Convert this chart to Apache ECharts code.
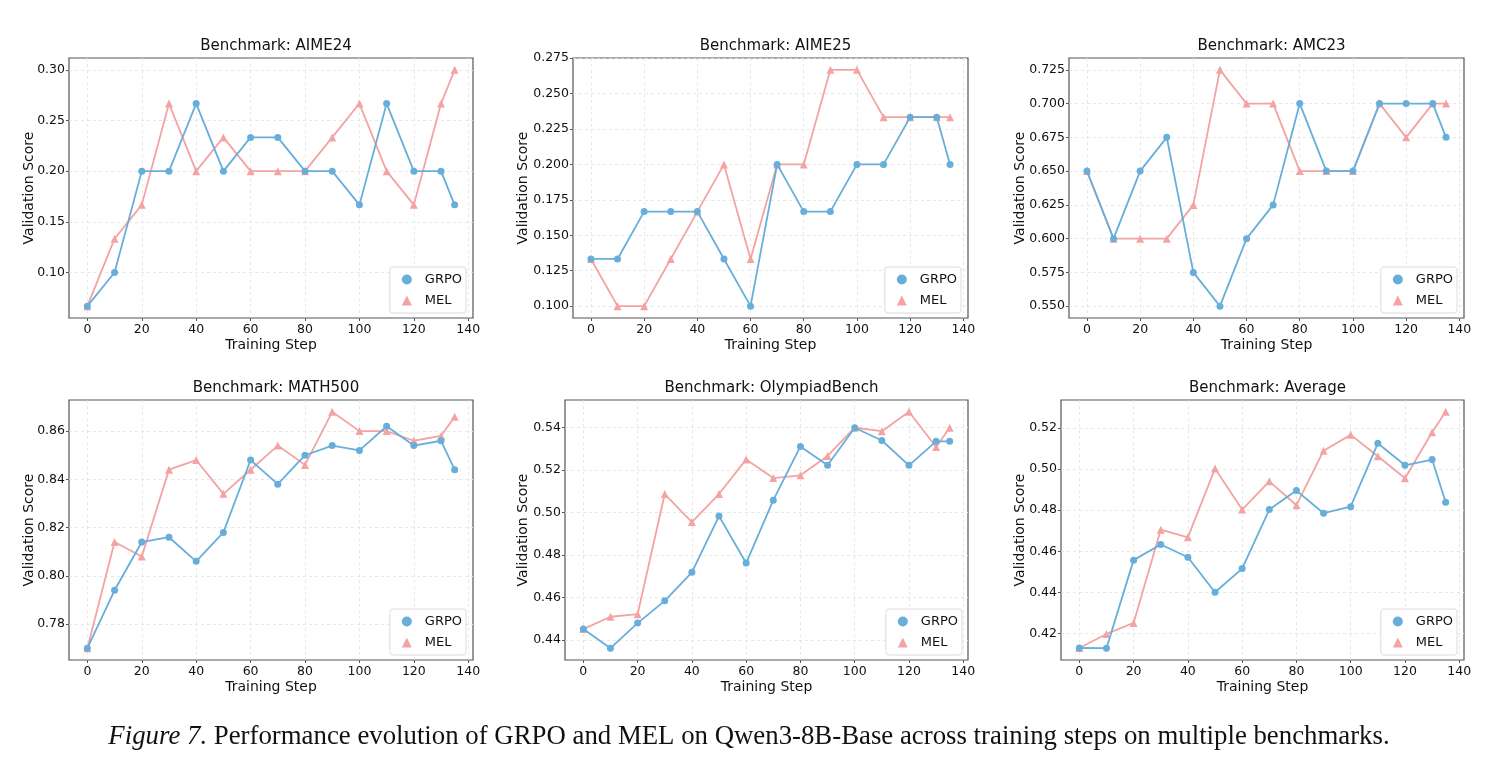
<!DOCTYPE html>
<html style="height: 100%">
<head>
  <meta charset="utf-8">
  <title>GRPO vs MEL</title>
</head>
<body style="height: 100%; margin: 0; background: #fff">
<div id="container" style="width: 1489px; height: 764px"></div>
<script src="https://cdn.jsdelivr.net/npm/echarts@6/dist/echarts.min.js"></script>
<script type="text/javascript">
  // training steps shared by every panel
  var steps = [0, 10, 20, 30, 40, 50, 60, 70, 80, 90, 100, 110, 120, 130, 135];
  var stepTicks = [0, 20, 40, 60, 80, 100, 120, 140];

  var benchmarks = ['AIME24', 'AIME25', 'AMC23', 'MATH500', 'OlympiadBench', 'Average'];

  var grpoAIME24 = [0.0667, 0.1, 0.2, 0.2, 0.2667, 0.2, 0.2333, 0.2333, 0.2, 0.2, 0.1667, 0.2667, 0.2, 0.2, 0.1667];
  var melAIME24  = [0.0667, 0.1333, 0.1667, 0.2667, 0.2, 0.2333, 0.2, 0.2, 0.2, 0.2333, 0.2667, 0.2, 0.1667, 0.2667, 0.3];

  var grpoAIME25 = [0.1333, 0.1333, 0.1667, 0.1667, 0.1667, 0.1333, 0.1, 0.2, 0.1667, 0.1667, 0.2, 0.2, 0.2333, 0.2333, 0.2];
  var melAIME25  = [0.1333, 0.1, 0.1, 0.1333, 0.1667, 0.2, 0.1333, 0.2, 0.2, 0.2667, 0.2667, 0.2333, 0.2333, 0.2333, 0.2333];

  var grpoAMC23 = [0.65, 0.6, 0.65, 0.675, 0.575, 0.55, 0.6, 0.625, 0.7, 0.65, 0.65, 0.7, 0.7, 0.7, 0.675];
  var melAMC23  = [0.65, 0.6, 0.6, 0.6, 0.625, 0.725, 0.7, 0.7, 0.65, 0.65, 0.65, 0.7, 0.675, 0.7, 0.7];

  var grpoMATH500 = [0.770, 0.794, 0.814, 0.816, 0.806, 0.818, 0.848, 0.838, 0.850, 0.854, 0.852, 0.862, 0.854, 0.856, 0.844];
  var melMATH500  = [0.770, 0.814, 0.808, 0.844, 0.848, 0.834, 0.844, 0.854, 0.846, 0.868, 0.860, 0.860, 0.856, 0.858, 0.866];

  var grpoOlympiad = [0.4452, 0.4362, 0.4480, 0.4585, 0.4719, 0.4984, 0.4763, 0.5059, 0.5312, 0.5223, 0.5400, 0.5340, 0.5223, 0.5336, 0.5336];
  var melOlympiad  = [0.4452, 0.4510, 0.4522, 0.5088, 0.4956, 0.5088, 0.5251, 0.5163, 0.5176, 0.5267, 0.5400, 0.5384, 0.5475, 0.5309, 0.5400];

  var grpoAverage = [0.4130, 0.4129, 0.4557, 0.4633, 0.4571, 0.4401, 0.4516, 0.4803, 0.4895, 0.4785, 0.4817, 0.5125, 0.5018, 0.5046, 0.4838];
  var melAverage  = [0.4130, 0.4198, 0.4252, 0.4705, 0.4668, 0.5002, 0.4803, 0.4940, 0.4824, 0.5089, 0.5166, 0.5062, 0.4955, 0.5179, 0.5278];

  // y tick labels per panel
  var yTicksAIME24 = [0.10, 0.15, 0.20, 0.25, 0.30];
  var yTicksAIME25 = [0.100, 0.125, 0.150, 0.175, 0.200, 0.225, 0.250, 0.275];
  var yTicksAMC23 = [0.550, 0.575, 0.600, 0.625, 0.650, 0.675, 0.700, 0.725];
  var yTicksMATH500 = [0.78, 0.80, 0.82, 0.84, 0.86];
  var yTicksOlympiad = [0.44, 0.46, 0.48, 0.50, 0.52, 0.54];
  var yTicksAverage = [0.42, 0.44, 0.46, 0.48, 0.50, 0.52];

  var grpoSets = [grpoAIME24, grpoAIME25, grpoAMC23, grpoMATH500, grpoOlympiad, grpoAverage];
  var melSets = [melAIME24, melAIME25, melAMC23, melMATH500, melOlympiad, melAverage];
  var yTickSets = [yTicksAIME24, yTicksAIME25, yTicksAMC23, yTicksMATH500, yTicksOlympiad, yTicksAverage];
  var yDecimals = [2, 3, 3, 2, 2, 2];

  // panel boxes in pixels: left, top, width, height, y-name gap, legend right
  var boxes = [
    [69, 58, 404, 260, 33, 1023],
    [573, 58, 395, 260, 43, 528],
    [1069, 58, 395, 260, 42, 32],
    [69, 400, 404, 260, 33, 1023],
    [565, 400, 403, 260, 35, 527],
    [1061, 400, 403, 260, 34, 32]
  ];

  var blue = '#67aedb';
  var pink = '#f4a3a3';
  var font = 'DejaVu Sans';

  var dom = document.getElementById('container');
  var myChart = echarts.init(dom, null, { renderer: 'canvas' });

  var grids = [], xAxes = [], yAxes = [], titles = [], legends = [], series = [];

  function pad(lo, hi) {
    var m = (hi - lo) * 0.05;
    return [lo - m, hi + m];
  }

  for (var i = 0; i < 6; i++) {
    var b = boxes[i];
    grids.push({
      left: b[0], top: b[1], width: b[2], height: b[3],
      show: true, borderColor: '#555', borderWidth: 1.2, backgroundColor: '#fff'
    });
    var xr = pad(steps[0], steps[steps.length - 1]);
    xAxes.push({
      type: 'value', gridIndex: i, min: xr[0], max: xr[1],
      name: 'Training Step', nameLocation: 'middle', nameGap: 20, nameMoveOverlap: false,
      nameTextStyle: { fontFamily: font, fontSize: 14, color: '#111' },
      axisLine: { show: false, onZero: false },
      axisTick: { show: true, length: 3, lineStyle: { color: '#555' }, customValues: stepTicks },
      axisLabel: { customValues: stepTicks, fontFamily: font, fontSize: 12.5, color: '#111', margin: 5 },
      splitLine: { show: true, lineStyle: { color: '#e2e2e2', type: [3, 3], width: 0.8 } }
    });
    var all = grpoSets[i].concat(melSets[i]);
    var yr = pad(Math.min.apply(null, all), Math.max.apply(null, all));
    var dec = yDecimals[i];
    yAxes.push({
      type: 'value', gridIndex: i, min: yr[0], max: yr[1],
      name: 'Validation Score', nameLocation: 'middle', nameGap: b[4], nameMoveOverlap: false,
      nameTextStyle: { fontFamily: font, fontSize: 14, color: '#111' },
      axisLine: { show: false, onZero: false },
      axisTick: { show: true, length: 3, lineStyle: { color: '#555' }, customValues: yTickSets[i] },
      axisLabel: {
        customValues: yTickSets[i], fontFamily: font, fontSize: 12.5, color: '#111', margin: 4,
        formatter: (function (d) { return function (v) { return v.toFixed(d); }; })(dec)
      },
      splitLine: { show: true, lineStyle: { color: '#e2e2e2', type: [3, 3], width: 0.8 } }
    });
    titles.push({
      text: 'Benchmark: ' + benchmarks[i],
      left: b[0] + b[2] / 2, top: b[1] - 24, textAlign: 'center',
      textStyle: { fontFamily: font, fontSize: 15, fontWeight: 'normal', color: '#111' }
    });
    legends.push({
      data: [{ name: 'GRPO', icon: 'circle' }, { name: 'MEL', icon: 'triangle' }],
      orient: 'vertical', right: b[5], top: b[1] + b[3] - 51,
      itemWidth: 10, itemHeight: 10, itemGap: 8,
      padding: [6, 4, 6, 12],
      borderColor: '#dcdcdc', borderWidth: 1, borderRadius: 3, backgroundColor: '#fff',
      textStyle: { fontFamily: font, fontSize: 13, color: '#111', padding: [0, 0, 0, 8] }
    });
    series.push({
      name: 'GRPO', type: 'line', xAxisIndex: i, yAxisIndex: i,
      data: steps.map(function (s, k) { return [s, grpoSets[i][k]]; }),
      symbol: 'circle', symbolSize: 7, color: blue,
      lineStyle: { width: 1.8, color: blue }, itemStyle: { color: blue },
      animation: false, z: 3
    });
    series.push({
      name: 'MEL', type: 'line', xAxisIndex: i, yAxisIndex: i,
      data: steps.map(function (s, k) { return [s, melSets[i][k]]; }),
      symbol: 'triangle', symbolSize: 8, color: pink,
      lineStyle: { width: 1.8, color: pink }, itemStyle: { color: pink },
      animation: false, z: 2
    });
  }

  titles.push({
    text: '{i|Figure 7.} Performance evolution of GRPO and MEL on Qwen3-8B-Base across training steps on multiple benchmarks.',
    left: 744, top: 718, textAlign: 'center',
    textStyle: {
      fontFamily: 'Liberation Serif', fontSize: 26.8, fontWeight: 'normal', color: '#111',
      rich: { i: { fontFamily: 'Liberation Serif', fontSize: 26.8, fontStyle: 'italic', color: '#111' } }
    }
  });

  var option = {
    backgroundColor: '#fff',
    animation: false,
    title: titles,
    legend: legends,
    grid: grids,
    xAxis: xAxes,
    yAxis: yAxes,
    series: series
  };

  myChart.setOption(option);
</script>
</body>
</html>
